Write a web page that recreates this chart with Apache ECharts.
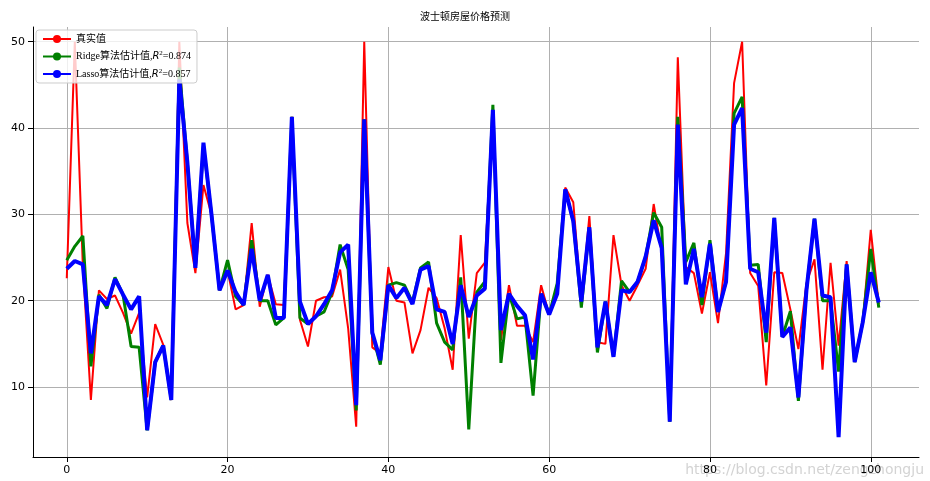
<!DOCTYPE html>
<html>
<head>
<meta charset="utf-8">
<script src="https://cdn.jsdelivr.net/npm/echarts@6/dist/echarts.min.js"></script>
</head>
<body style="margin:0">
<div id="main" style="width:930px;height:481px;"></div>
<script>
// 真实值
var realVals = [22.6,50,24,8.5,21.2,20.2,20.6,18.6,16.2,18.6,8.8,17.3,14.9,8.5,50,29,23.2,33.4,30,21.2,23.5,19,19.5,29,19.3,23,19.6,19.5,41.3,17.8,14.7,20,20.4,20.5,23.6,16.8,5.4,50,14.6,13.9,23.9,20,19.8,13.9,16.6,21.5,20.3,16.8,12,27.6,15.6,23.2,24.4,42,15.4,21.8,17.1,17.1,15.2,21.8,18.4,20.8,33.1,31.4,19.9,29.8,15.2,15,27.6,21.8,20,21.8,23.7,31.2,25.6,6,48.2,23.9,23.2,18.5,23.3,17.4,25.5,45.2,50,23.2,21.7,10.2,23.3,23.2,19,14.4,22,24.8,12,24.4,14.8,24.6,12.9,17.5,28.2,19.6];
// Ridge
var ridgeVals = [24.7,26.3,27.5,12.4,20.7,19.1,22.7,20.7,14.7,14.6,5,12.9,14.8,8.5,47,36,24,38,30,21.2,24.7,20.5,19.5,27,20,20,17.2,18,41.3,18,17.3,18.2,18.7,21,26.5,23.6,7.3,41,16.2,12.6,21.8,22.1,21.8,19.8,23.8,24.5,17.4,15.2,14.3,22.7,5.1,21,22.2,42.7,12.8,20.8,17.9,18.1,9,20.8,18.4,22,32.9,29.2,19.2,28.5,14,19.9,13.5,22.3,21,22.2,25.1,30.2,28.5,6,41.3,24.5,26.7,19.5,27,18.7,22.2,41.7,43.6,24.1,24.2,15.2,29.6,15.8,18.8,8.4,21.2,29.5,20,20,11.8,24.2,12.9,17.5,26,19.2];
// Lasso
var lassoVals = [23.7,24.6,24.2,13.9,20.5,19.5,22.5,20.7,19,20.5,5,12.9,14.8,8.5,45.6,36,23.8,38.3,30,21.2,23.5,21,19.5,26,20,23,18,18,41.3,19.9,17.3,18.2,19.6,21.2,25.6,26.5,7.9,41,16.3,13.1,21.8,20.3,21.5,19.6,23.6,24,19,18.7,15,21.8,18.1,20.6,21.4,42.1,16.6,20.8,19.4,18.3,13.2,20.8,18.4,20.8,32.9,29.2,19.9,28.5,14.6,19.9,13.5,21.2,21,22.2,25.1,29.3,26.1,6,40.4,21.9,26,20.4,26.6,18.7,22.2,40.4,42.3,23.7,23.3,16.3,29.6,15.8,16.9,8.8,21.2,29.5,20.6,20.4,4.2,24.2,12.9,17.5,23.3,19.8];
var xTicks = [0,20,40,60,80,100];
var yTicks = [10,20,30,40,50];

function pairs(a){ return a.map(function(v,i){ return [i,v]; }); }

var chart = echarts.init(document.getElementById('main'));
var font = 'DejaVu Sans, Noto Sans CJK SC';
var gridLine = {show:true, lineStyle:{color:'#b0b0b0', width:1}};
chart.setOption({
    animation:false,
    title:{text:'波士顿房屋价格预测', left:'center', top:6,
        textStyle:{fontSize:10, fontWeight:'normal', color:'#000', fontFamily:'Noto Sans CJK SC'}},
    graphic:[{type:'text', right:6, bottom:4,
        style:{text:'https://blog.csdn.net/zengzhongju', fill:'rgba(200,200,200,0.8)', font:'14px DejaVu Sans'}}],
    legend:{
        left:36, top:30, orient:'vertical', itemGap:6, itemWidth:28, itemHeight:10,
        backgroundColor:'rgba(255,255,255,0.8)', borderColor:'#ccc', borderWidth:1, borderRadius:3, padding:[4,6],
        data:['真实值','Ridge','Lasso'],
        formatter:function(n){
            if(n==='真实值') return '真实值';
            return n==='Ridge' ? 'Ridge算法估计值,{i|R}{s|2}=0.874' : 'Lasso算法估计值,{i|R}{s|2}=0.857';
        },
        textStyle:{fontSize:10, color:'#000', fontFamily:'Liberation Serif, Noto Sans CJK SC',
            rich:{i:{fontStyle:'italic', fontSize:10, fontFamily:'DejaVu Sans'}, s:{fontSize:7, verticalAlign:'top', padding:[0,0,6,0]}}}
    },
    grid:{left:33, right:11, top:27, bottom:24},
    xAxis:{type:'value', min:-4.2, max:106,
        axisLine:{onZero:false, lineStyle:{color:'#000'}},
        axisTick:{customValues:xTicks, lineStyle:{color:'#000'}},
        axisLabel:{customValues:xTicks, color:'#000', fontSize:11, fontFamily:font},
        splitLine:gridLine},
    yAxis:{type:'value', min:1.9, max:51.7,
        axisLine:{show:true, onZero:false, lineStyle:{color:'#000'}},
        axisTick:{show:true, customValues:yTicks, lineStyle:{color:'#000'}},
        axisLabel:{customValues:yTicks, color:'#000', fontSize:11, fontFamily:font},
        splitLine:gridLine},
    series:[
        {name:'真实值', type:'line', data:pairs(realVals), symbol:'none', lineStyle:{color:'#ff0000', width:2}, itemStyle:{color:'#ff0000'}, z:1},
        {name:'Ridge', type:'line', data:pairs(ridgeVals), symbol:'none', lineStyle:{color:'#008000', width:3}, itemStyle:{color:'#008000'}, z:2},
        {name:'Lasso', type:'line', data:pairs(lassoVals), symbol:'none', lineStyle:{color:'#0000ff', width:4}, itemStyle:{color:'#0000ff'}, z:3}
    ]
});
</script>
</body>
</html>
